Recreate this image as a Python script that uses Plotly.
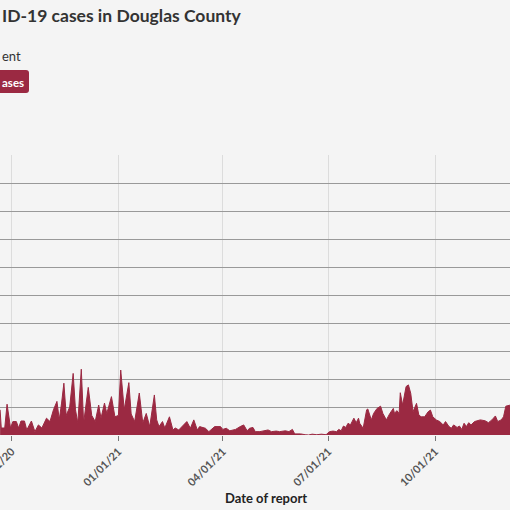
import plotly.graph_objects as go

# daily cases (peaks and troughs)
dates = [
    "2020-09-21", "2020-09-22", "2020-09-25", "2020-09-27", "2020-09-30",
    "2020-10-02", "2020-10-05", "2020-10-07", "2020-10-09", "2020-10-12",
    "2020-10-14", "2020-10-18", "2020-10-21", "2020-10-24", "2020-10-27",
    "2020-10-31", "2020-11-03", "2020-11-06", "2020-11-09", "2020-11-11",
    "2020-11-13", "2020-11-15", "2020-11-17", "2020-11-20", "2020-11-23",
    "2020-11-25", "2020-11-27", "2020-11-30", "2020-12-02", "2020-12-04",
    "2020-12-06", "2020-12-09", "2020-12-12", "2020-12-15", "2020-12-17",
    "2020-12-20", "2020-12-22", "2020-12-26", "2020-12-29", "2021-01-01",
    "2021-01-03", "2021-01-06", "2021-01-10", "2021-01-12", "2021-01-15",
    "2021-01-19", "2021-01-21", "2021-01-22", "2021-01-25", "2021-01-27",
    "2021-01-28", "2021-02-01", "2021-02-03", "2021-02-05", "2021-02-08",
    "2021-02-10", "2021-02-14", "2021-02-17", "2021-02-19", "2021-02-22",
    "2021-02-26", "2021-03-01", "2021-03-04", "2021-03-07", "2021-03-10",
    "2021-03-12", "2021-03-17", "2021-03-20", "2021-03-25", "2021-03-30",
    "2021-04-01", "2021-04-04", "2021-04-07", "2021-04-12", "2021-04-16",
    "2021-04-19", "2021-04-22", "2021-04-24", "2021-04-27", "2021-04-29",
    "2021-05-03", "2021-05-06", "2021-05-10", "2021-05-13", "2021-05-17",
    "2021-05-20", "2021-05-25", "2021-05-28", "2021-05-31", "2021-06-02",
    "2021-06-07", "2021-06-11", "2021-06-14", "2021-06-17", "2021-06-21",
    "2021-06-25", "2021-06-29", "2021-07-02", "2021-07-05", "2021-07-08",
    "2021-07-10", "2021-07-12", "2021-07-14", "2021-07-16", "2021-07-18",
    "2021-07-20", "2021-07-23", "2021-07-25", "2021-07-27", "2021-07-28",
    "2021-07-31", "2021-08-03", "2021-08-04", "2021-08-07", "2021-08-09",
    "2021-08-12", "2021-08-15", "2021-08-17", "2021-08-20", "2021-08-23",
    "2021-08-26", "2021-08-27", "2021-08-29", "2021-08-31", "2021-09-01",
    "2021-09-03", "2021-09-05", "2021-09-06", "2021-09-08", "2021-09-10",
    "2021-09-12", "2021-09-15", "2021-09-17", "2021-09-19", "2021-09-22",
    "2021-09-25", "2021-09-27", "2021-09-29", "2021-10-02", "2021-10-05",
    "2021-10-08", "2021-10-10", "2021-10-13", "2021-10-15", "2021-10-17",
    "2021-10-20", "2021-10-22", "2021-10-24", "2021-10-26", "2021-10-28",
    "2021-10-30", "2021-11-01", "2021-11-04", "2021-11-09", "2021-11-13",
    "2021-11-16", "2021-11-19", "2021-11-22", "2021-11-24", "2021-11-27",
    "2021-11-29", "2021-12-01", "2021-12-05", "2021-12-11",
]
cases = [
    9, 2.5, 2.5, 11, 2.5,
    4.8, 4.8, 2.5, 5, 5,
    1.8, 5, 1.2, 3.6, 2.5,
    6, 4.8, 9, 12, 5.5,
    11.4, 18.5, 7, 10, 22,
    9, 4.3, 23.5, 4.3, 11.4,
    17, 7, 4.8, 10.7, 6,
    11.4, 7.7, 13.7, 6.5, 7,
    23.2, 9, 18.7, 7.5, 4.8,
    15, 9, 4.3, 7.7, 4.8,
    3, 14.3, 5.4, 3, 4.8,
    2.5, 6.5, 1.8, 2.5, 1.8,
    3.6, 4.8, 2.4, 5.4, 1.8,
    3, 2.4, 1.2, 3, 3,
    2, 2.4, 1.5, 2, 3,
    3.6, 1.5, 2.4, 2.7, 1.2,
    1.2, 1.4, 1.8, 1.2, 1.4,
    1.2, 1.5, 1.2, 2, 0.4,
    0.4, 0.1, 0, 0.3, 0.1,
    0.3, 0.1, 1.2, 1.4, 1.2,
    2, 1.5, 3.2, 2.7, 4.2,
    3.6, 6, 4.4, 6, 4.2,
    2.4, 9, 9.3, 5.4, 7.7,
    9.5, 10.3, 7.7, 5.4, 7.7,
    9.5, 7.7, 8.7, 7.7, 15.1,
    10.7, 14.9, 17.3, 17.9, 14.9,
    8.3, 11.3, 7.1, 6.5, 6.5,
    8.3, 8.9, 6.5, 5.4, 4.8,
    3.6, 4.8, 3, 2.4, 3.6,
    2.7, 3.2, 2, 4.2, 3,
    4.4, 3.6, 4.8, 5.4, 5.1,
    4.4, 5.4, 6.8, 4.8, 5.4,
    6.5, 10.3, 10.7, 10.5,
]

tick_dates = ["2020-10-01", "2021-01-01", "2021-04-01", "2021-07-01", "2021-10-01", "2022-01-01"]
tick_labels = ["10/01/20", "01/01/21", "04/01/21", "07/01/21", "10/01/21", "01/01/22"]

# the visible parts of the header texts (the view is cropped on the left)
title_text = "ID-19 cases in Douglas County"
subtitle_text = "ent"
key_text = "ases"
xaxis_title = "Date of report"

red = "#9b2942"
W, H = 510, 510
top, bottom = 155, 435          # plot area in pixels


def py(y):
    # pixel row -> paper y
    return (bottom - y) / (bottom - top)


fig = go.Figure()
fig.add_trace(go.Scatter(
    x=dates, y=cases, mode="lines", fill="tozeroy",
    line=dict(color=red, width=1), fillcolor=red,
    hoverinfo="x+y", showlegend=False,
))

# legend key button
x0, x1, r = -20 / W, 29 / W, 3
y0, y1 = py(93), py(70)
rx, ry = r / W, r / (bottom - top)
fig.add_shape(
    type="path", xref="paper", yref="paper", line_width=0, fillcolor=red,
    path=(f"M{x0},{y0} L{x1 - rx},{y0} Q{x1},{y0} {x1},{y0 + ry} "
          f"L{x1},{y1 - ry} Q{x1},{y1} {x1 - rx},{y1} L{x0},{y1} Z"),
)

fig.add_annotation(text=f"<b>{title_text}</b>", xref="paper", yref="paper",
                   x=0, y=py(15), xanchor="left", yanchor="middle", showarrow=False,
                   font=dict(size=17.5, color="#333333"))
fig.add_annotation(text=subtitle_text, xref="paper", yref="paper",
                   x=0, y=py(56), xanchor="left", yanchor="middle", showarrow=False,
                   font=dict(size=13, color="#333333"))
fig.add_annotation(text=f"<b>{key_text}</b>", xref="paper", yref="paper",
                   x=0, y=py(82), xanchor="left", yanchor="middle", showarrow=False,
                   font=dict(size=11.5, color="white"))
fig.add_annotation(text=f"<b>{xaxis_title}</b>", xref="paper", yref="paper",
                   x=266 / W, y=py(498), xanchor="center", yanchor="middle", showarrow=False,
                   font=dict(size=13, color="#222222"))

fig.update_layout(
    width=W, height=H,
    margin=dict(l=0, r=0, t=top, b=H - bottom, pad=0, autoexpand=False),
    paper_bgcolor="#f4f4f4", plot_bgcolor="#f4f4f4",
    font=dict(family="Lato, Noto Sans, sans-serif", color="#444444"),
    xaxis=dict(
        type="date", range=["2020-09-20 22:00", "2021-12-04 14:00"],
        tickvals=tick_dates, ticktext=[f"<b>{t}</b>" for t in tick_labels], tickangle=-45,
        tickfont=dict(size=11, color="#555555"), ticklabeloverflow="allow",
        automargin=False,
        showgrid=True, gridcolor="#dcdcdc", gridwidth=1,
        ticks="outside", ticklen=5, tickcolor="#777777",
        zeroline=False, showline=False, fixedrange=True,
    ),
    yaxis=dict(
        range=[0, 100], dtick=10, showticklabels=False, automargin=False,
        showgrid=True, gridcolor="#999999", gridwidth=1,
        zeroline=False, showline=False, fixedrange=True,
    ),
)

fig.write_html("out.html", config={"displayModeBar": False},
               post_script="document.body.style.margin='0';document.body.style.background='#f4f4f4';")
